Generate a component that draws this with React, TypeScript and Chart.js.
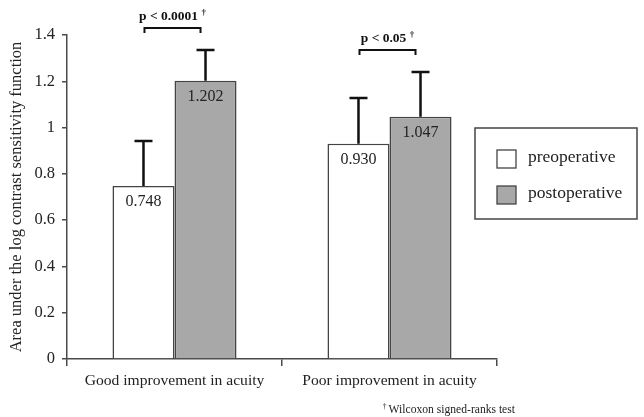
import React, { useEffect, useRef } from "react";
import { Chart, registerables } from "chart.js";

Chart.register(...registerables);

const categories = ["Good improvement in acuity", "Poor improvement in acuity"];
const seriesLabels = ["preoperative", "postoperative"];
const preopValues = [0.748, 0.93];
const postopValues = [1.202, 1.047];
const preopSD = [0.194, 0.198];
const postopSD = [0.133, 0.193];
const valueLabels = [["0.748", "0.930"], ["1.202", "1.047"]];
const pLabels = ["p < 0.0001", "p < 0.05"];
const footnote = "Wilcoxon signed-ranks test";
const yTitle = "Area under the log contrast sensitivity function";

const FONT = "'Liberation Serif', 'Times New Roman', serif";
const AXIS = "#4a4a4a";

const overlayPlugin = {
  id: "overlay",
  afterDatasetsDraw(chart: any) {
    const ctx = chart.ctx;
    const y = chart.scales.y;
    const sds = [preopSD, postopSD];
    const vals = [preopValues, postopValues];
    ctx.save();
    // error bars
    for (let d = 0; d < 2; d++) {
      const meta = chart.getDatasetMeta(d);
      meta.data.forEach((bar: any, i: number) => {
        const top = y.getPixelForValue(vals[d][i] + sds[d][i]);
        const base = y.getPixelForValue(vals[d][i]);
        ctx.strokeStyle = "#111";
        ctx.lineWidth = 2.5;
        ctx.beginPath();
        ctx.moveTo(bar.x, base);
        ctx.lineTo(bar.x, top);
        ctx.moveTo(bar.x - 9, top);
        ctx.lineTo(bar.x + 9, top);
        ctx.stroke();
        // value labels
        ctx.fillStyle = "#222";
        ctx.font = `16px ${FONT}`;
        ctx.textAlign = "center";
        ctx.textBaseline = "middle";
        ctx.fillText(valueLabels[d][i], bar.x, base + 16);
      });
    }
    // brackets
    const m0 = chart.getDatasetMeta(0);
    const m1 = chart.getDatasetMeta(1);
    for (let i = 0; i < categories.length; i++) {
      const x0 = m0.data[i].x + 1;
      const x1 = m1.data[i].x - 5;
      const topErr = Math.min(
        y.getPixelForValue(preopValues[i] + preopSD[i]),
        y.getPixelForValue(postopValues[i] + postopSD[i])
      );
      const by = topErr - 22;
      ctx.strokeStyle = "#111";
      ctx.lineWidth = 2;
      ctx.beginPath();
      ctx.moveTo(x0, by + 5);
      ctx.lineTo(x0, by);
      ctx.lineTo(x1, by);
      ctx.lineTo(x1, by + 5);
      ctx.stroke();
      ctx.font = `bold 13.5px ${FONT}`;
      const tw = ctx.measureText(pLabels[i] + " ").width;
      ctx.font = `bold 9px ${FONT}`;
      const dw = ctx.measureText("†").width;
      const cx = (x0 + x1) / 2;
      const start = cx - (tw + dw) / 2;
      ctx.fillStyle = "#111";
      ctx.textAlign = "left";
      ctx.textBaseline = "middle";
      ctx.font = `bold 13.5px ${FONT}`;
      ctx.fillText(pLabels[i], start, by - 12);
      ctx.font = `bold 9px ${FONT}`;
      ctx.fillText("†", start + tw, by - 15);
    }
    // legend
    const lx = 475, ly = 128, lw = 162, lh = 91;
    ctx.strokeStyle = "#444";
    ctx.lineWidth = 1.5;
    ctx.strokeRect(lx, ly, lw, lh);
    chart.data.datasets.forEach((ds: any, k: number) => {
      const sy = 150 + k * 36;
      ctx.fillStyle = ds.backgroundColor;
      ctx.fillRect(497, sy, 19, 18);
      ctx.strokeStyle = "#444";
      ctx.lineWidth = 1.3;
      ctx.strokeRect(497, sy, 19, 18);
      ctx.fillStyle = "#222";
      ctx.font = `17.5px ${FONT}`;
      ctx.textAlign = "left";
      ctx.textBaseline = "middle";
      ctx.fillText(ds.label, 528, sy + 7);
    });
    // footnote
    ctx.fillStyle = "#222";
    ctx.textAlign = "right";
    ctx.textBaseline = "middle";
    ctx.font = `11.6px ${FONT}`;
    ctx.fillText(footnote, 515, 410);
    const fw = ctx.measureText(footnote).width;
    ctx.font = `7.5px ${FONT}`;
    ctx.fillText("†", 515 - fw - 2, 407);
    ctx.restore();
  },
};

export default function App() {
  const ref = useRef<HTMLCanvasElement | null>(null);
  useEffect(() => {
    if (!ref.current) return;
    const chart = new Chart(ref.current, {
      type: "bar",
      data: {
        labels: categories,
        datasets: [
          {
            label: seriesLabels[0],
            data: preopValues,
            backgroundColor: "#ffffff",
            borderColor: "#444444",
            borderWidth: 1.6,
          },
          {
            label: seriesLabels[1],
            data: postopValues,
            backgroundColor: "#a8a8a8",
            borderColor: "#444444",
            borderWidth: 1.6,
          },
        ],
      },
      options: {
        animation: false,
        responsive: false,
        devicePixelRatio: 1,
        layout: { padding: { left: 0, right: 147, top: 35, bottom: 0 } },
        plugins: { legend: { display: false }, tooltip: { enabled: false } },
        datasets: { bar: { categoryPercentage: 0.577, barPercentage: 1 } },
        scales: {
          x: {
            grid: {
              display: true,
              drawOnChartArea: false,
              drawTicks: true,
              tickLength: 7,
              color: AXIS,
              lineWidth: 1.5,
              offset: true,
            },
            border: { display: true, color: AXIS, width: 1.5 },
            ticks: { color: "#222", font: { family: FONT, size: 15.6 }, padding: 6 },
            afterFit: (s: any) => {
              s.height = 58;
            },
          },
          y: {
            min: 0,
            max: 1.4,
            grid: {
              display: true,
              drawOnChartArea: false,
              drawTicks: true,
              tickLength: 5,
              color: AXIS,
              lineWidth: 1.5,
            },
            border: { display: true, color: AXIS, width: 1.5 },
            ticks: {
              stepSize: 0.2,
              color: "#222",
              font: { family: FONT, size: 16.5 },
              padding: 7,
              callback: (v: any) => String(Math.round(Number(v) * 10) / 10),
            },
            title: {
              display: true,
              text: yTitle,
              color: "#222",
              font: { family: FONT, size: 16.5 },
              padding: { top: 7, bottom: 0 },
            },
            afterFit: (s: any) => {
              s.width = 67;
            },
          },
        },
      },
      plugins: [overlayPlugin],
    });
    return () => chart.destroy();
  }, []);
  return (
    <div style={{ position: "absolute", left: 0, top: 0, width: 644, height: 417, background: "#fff" }}>
      <canvas ref={ref} width={644} height={417} style={{ width: 644, height: 417 }} />
    </div>
  );
}
